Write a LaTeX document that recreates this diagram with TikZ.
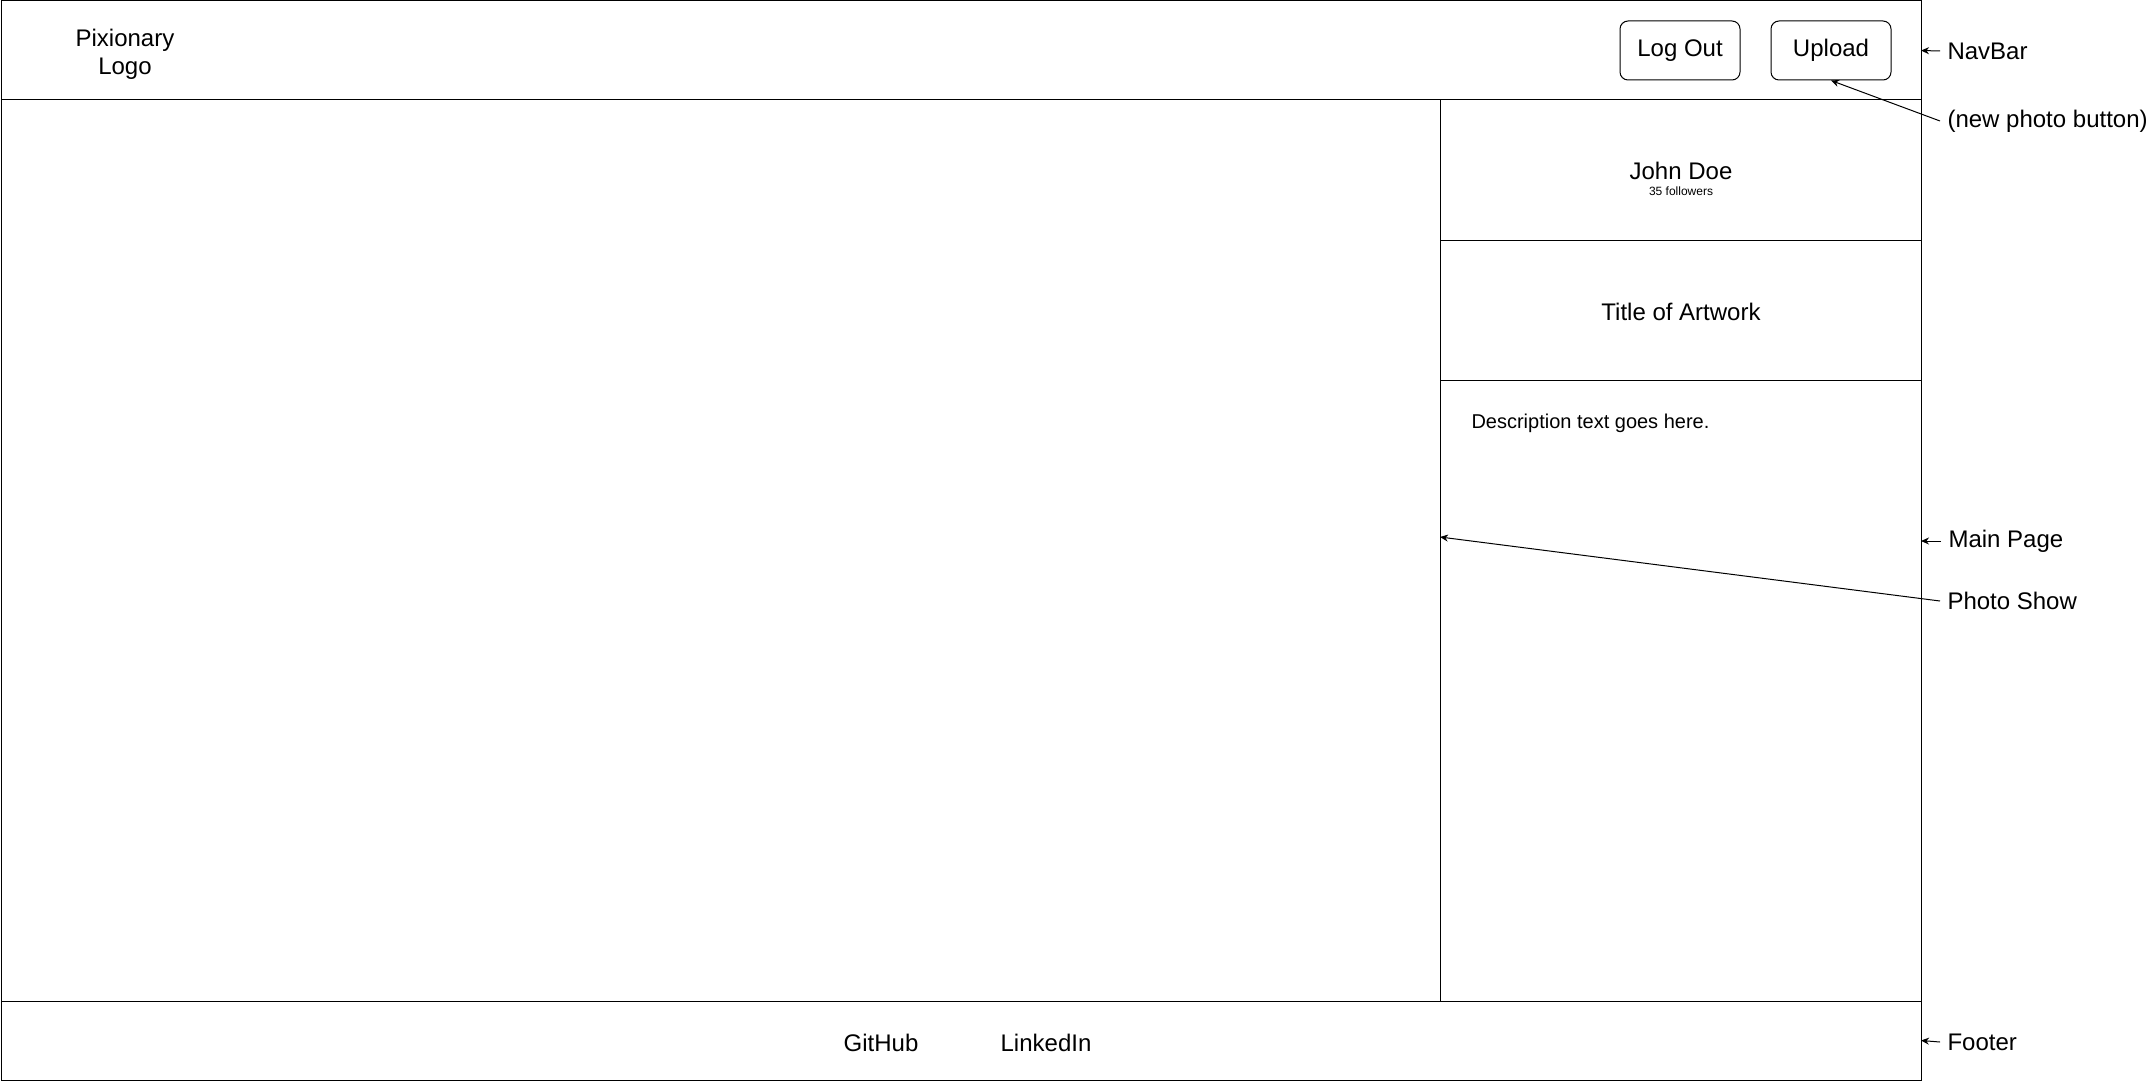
\documentclass[tikz,border=0pt]{standalone}
\usepackage{fontspec}
\setmainfont{Liberation Sans}
\usepackage{tikz}
\usetikzlibrary{positioning}
\usetikzlibrary{arrows.meta}

\begin{document}
\begin{tikzpicture}[x=0.5pt,y=-0.5pt,line width=0.5pt,node distance=2cm,on grid,
   >={Stealth[length=4pt,width=3.5pt]},
   font=\fontsize{12}{13.8}\selectfont,
   region/.style={draw,rectangle,inner sep=0pt,outer sep=0pt},
   button/.style={draw,rectangle,rounded corners=4pt,minimum width=60pt,minimum height=29.5pt,inner sep=0pt},
   lbl/.style={anchor=west,inner sep=3.5pt},
   pointer/.style={->,line width=0.5pt}]
   \useasboundingbox (0,0) rectangle (2151,1081);
   % page frame
   \node[region,minimum width=960pt,minimum height=450.5pt] (main) at (961,550.5) {};
   \node[region,minimum width=960pt,minimum height=49.5pt] (nav) at (961,50.5) {};
   \node[region,minimum width=960pt,minimum height=39.5pt] (footer) at (961,1040.5) {};
   % side panel
   \node[region,minimum width=240.5pt,minimum height=70pt] (user) at (1680.5,170) {};
   \node[region,minimum width=240.5pt,minimum height=70pt] (title) at (1680.5,310) {};
   \node[region,minimum width=240.5pt,minimum height=310.5pt] (desc) at (1680.5,690.5) {};
   \node (name) at (1681,171) {John Doe};
   \node[font=\fontsize{6}{7}\selectfont] (followers) at (1681,191) {35 followers};
   \node (arttitle) at (1681,312) {Title of Artwork};
   \node[anchor=west,inner sep=0pt,font=\fontsize{10}{12}\selectfont] (desctext) at (1471,423) {Description text goes here.};
   % navbar
   \node[align=center] (logo) at (125,54) {Pixionary\\Logo};
   \node[button] (logout) at (1680,50.5) {Log Out};
   \node[button] (upload) [right=75.5pt of logout] {Upload};
   % footer
   \node (github) at (881,1043) {GitHub};
   \node (linkedin) [right=82.5pt of github] {LinkedIn};
   % notes
   \coordinate (mainpt) at (1921,541);
   \coordinate (showpt) at (1440,537);
   \node[lbl] (navlbl) at (1940,51) {NavBar};
   \node[lbl] (newlbl) at (1940,121) {(new photo button)};
   \node[lbl] (mainlbl) at (1941,541) {Main Page};
   \node[lbl] (showlbl) at (1940,601) {Photo Show};
   \node[lbl] (footlbl) at (1940,1042) {Footer};
   \draw[pointer] (navlbl.west) -- (nav.east);
   \draw[pointer] (newlbl.west) -- (upload.south);
   \draw[pointer] (mainlbl.west) -- (mainpt);
   \draw[pointer] (showlbl.west) -- (showpt);
   \draw[pointer] (footlbl.west) -- (footer.east);
\end{tikzpicture}
\end{document}
